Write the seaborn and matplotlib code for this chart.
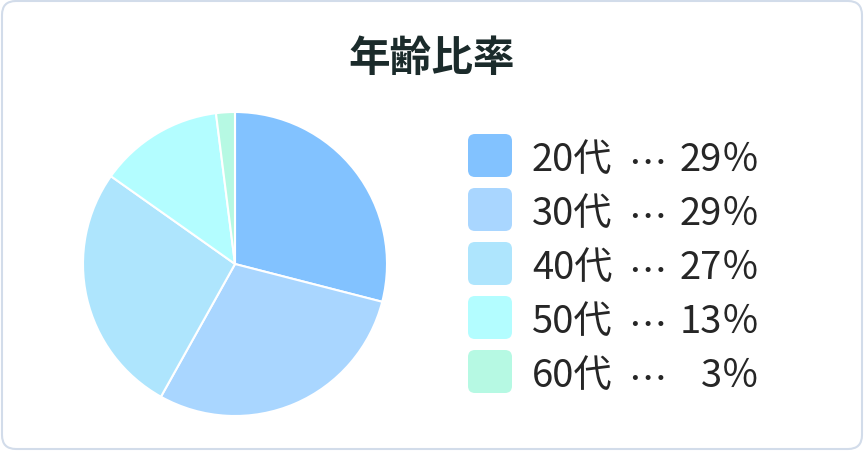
import matplotlib
matplotlib.use('Agg')
import matplotlib.pyplot as plt
from matplotlib.patches import FancyBboxPatch
import seaborn as sns

# Data
title = '年齢比率'
age_groups = ['20代', '30代', '40代', '50代', '60代']
shares = [29.0, 29.1, 26.7, 13.2, 2.0]      # slice sizes as measured on the pie
pct_labels = [29, 29, 27, 13, 3]             # percentages printed in the legend
colors = ['#82c2ff', '#a9d6ff', '#aee5fd', '#b3fdff', '#b6f9e3']

sns.set_theme(style='white')
plt.rcParams['font.family'] = ['Noto Sans CJK JP', 'DejaVu Sans']

W, H = 864, 452
fig = plt.figure(figsize=(W / 100, H / 100), dpi=100)
fig.patch.set_facecolor('white')

# overlay axes in pixel coordinates for the card frame, title and legend
bg = fig.add_axes([0, 0, 1, 1])
bg.set_xlim(0, W)
bg.set_ylim(H, 0)
bg.axis('off')
bg.add_patch(FancyBboxPatch((2, 2), W - 4, H - 4,
                            boxstyle='round,pad=0,rounding_size=14',
                            fc='white', ec='#d2dcea', lw=1.5))
bg.text(W / 2, 59, title, ha='center', va='center', fontsize=30,
        fontweight='bold', color='#1b2b2b')

# pie
cx, cy, r = 235, 265, 152
pad = 1.02
ax = fig.add_axes([(cx - r * pad) / W, (H - cy - r * pad) / H,
                   2 * r * pad / W, 2 * r * pad / H])
ax.pie(shares, colors=sns.color_palette(colors), startangle=90,
       counterclock=False,
       wedgeprops=dict(edgecolor='white', linewidth=1.5))
ax.set_xlim(-pad, pad)
ax.set_ylim(-pad, pad)
ax.set_aspect('equal')

# legend
row0, step = 156.5, 54
txt = dict(fontsize=27.5, color='#262626')
for i, (grp, pct, col) in enumerate(zip(age_groups, pct_labels, colors)):
    y = row0 + i * step
    bg.add_patch(FancyBboxPatch((468, y - 21.5), 44, 43,
                                boxstyle='round,pad=0,rounding_size=7',
                                fc=col, ec='none'))
    base = y + 14
    bg.text(532, base, grp, ha='left', va='baseline', **txt)
    bg.text(647, base + 6, '…', ha='center', va='baseline', **txt)
    bg.text(760, base, f'{pct}％', ha='right', va='baseline', **txt)

fig.savefig('out.png', dpi=100, facecolor='white')
